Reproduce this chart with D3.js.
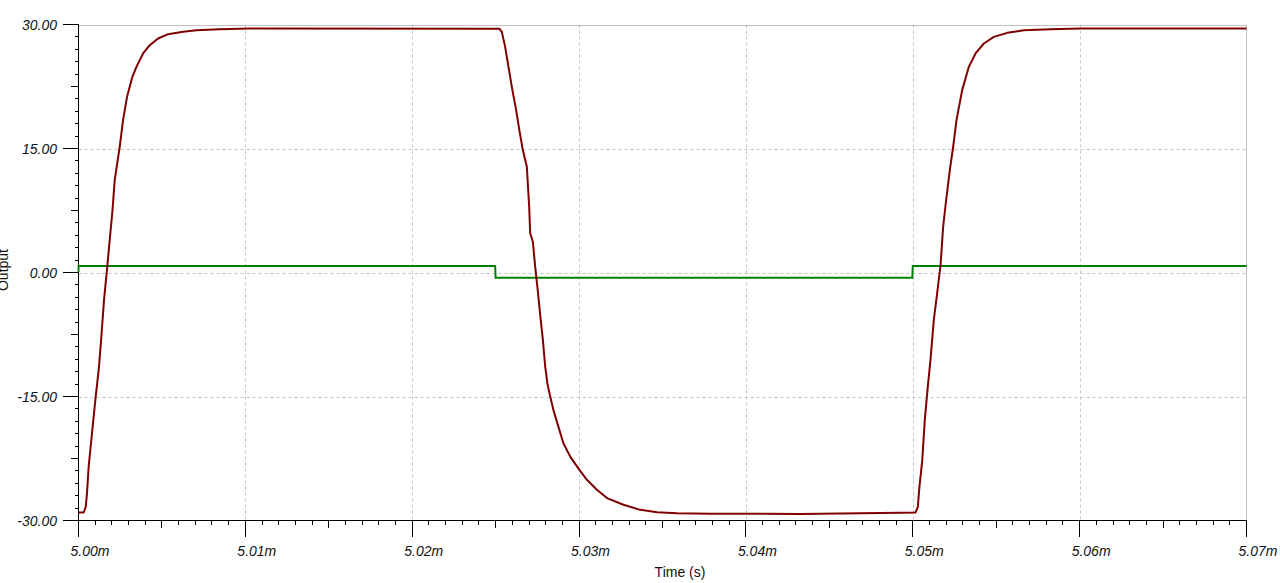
<!DOCTYPE html>
<html>
<head>
<meta charset="utf-8">
<script src="https://cdn.jsdelivr.net/npm/d3@7"></script>
<style>
  html, body { margin: 0; padding: 0; background: #fff; overflow: hidden; }
  svg { display: block; }
  text { font-family: "Liberation Sans", Arial, sans-serif; }
</style>
</head>
<body>
<svg id="chart" width="1280" height="583"></svg>
<script>
// ---- data (time in ms, output in V) ----
const redTime = [5.00000,5.00031,5.00043,5.00051,5.00061,5.00081,5.00101,5.00123,5.00137,5.00153,5.00173,5.00187,5.00203,5.00217,5.00247,5.00267,5.00291,5.00323,5.00347,5.00387,5.00427,5.00477,5.00537,5.00627,5.00707,5.00847,5.01027,5.02522,5.02537,5.02557,5.02577,5.02597,5.02606,5.02623,5.02642,5.02663,5.02687,5.02701,5.02707,5.02723,5.02737,5.02750,5.02766,5.02783,5.02797,5.02810,5.02827,5.02846,5.02876,5.02906,5.02947,5.03002,5.03047,5.03107,5.03167,5.03266,5.03367,5.03467,5.03587,5.03786,5.04327,5.04926,5.05016,5.05030,5.05040,5.05057,5.05072,5.05090,5.05106,5.05126,5.05146,5.05166,5.05182,5.05200,5.05222,5.05242,5.05262,5.05296,5.05336,5.05376,5.05426,5.05486,5.05566,5.05666,5.05826,5.06006,5.07000];
const redValue = [-29.03,-29.03,-28.38,-26.69,-23.47,-19.44,-15.41,-11.39,-7.76,-3.32,0.79,3.93,7.35,11.18,15.21,18.43,21.25,23.67,24.88,26.50,27.50,28.31,28.83,29.11,29.31,29.43,29.52,29.50,29.11,27.29,24.88,22.46,21.46,19.64,17.23,14.81,12.79,7.95,4.74,3.72,0.70,-1.72,-4.93,-8.16,-11.39,-13.39,-15.01,-16.62,-18.64,-20.65,-22.27,-23.88,-25.08,-26.29,-27.29,-28.10,-28.71,-28.99,-29.11,-29.19,-29.20,-29.05,-29.03,-28.38,-25.89,-22.66,-17.83,-13.80,-10.58,-5.74,-2.51,0.79,5.54,8.77,12.39,15.21,18.43,22.06,24.88,26.50,27.70,28.50,28.99,29.31,29.43,29.52,29.52];

const greenTime = [5.00000,5.000005,5.02497,5.02500,5.04997,5.05000,5.07000];
const greenValue = [0.05,0.80,0.80,-0.65,-0.65,0.80,0.80];

const xTickValues = [5.00,5.01,5.02,5.03,5.04,5.05,5.06,5.07];
const xTickLabels = ["5.00m","5.01m","5.02m","5.03m","5.04m","5.05m","5.06m","5.07m"];
const yTickValues = [30,15,0,-15,-30];
const yTickLabels = ["30.00","15.00","0.00","-15.00","-30.00"];

const xTitle = "Time (s)";
const yTitle = "Output";

// ---- layout ----
const svg = d3.select("#chart");
const x = d3.scaleLinear().domain([5.00, 5.07]).range([78.5, 1246.5]);
const y = d3.scaleLinear().domain([-30, 30]).range([520.5, 24.5]);

// grid
const grid = svg.append("g");
grid.selectAll("line.vg").data(xTickValues.slice(1, -1)).enter().append("line")
  .attr("x1", d => Math.round(x(d)) + 0.5).attr("x2", d => Math.round(x(d)) + 0.5)
  .attr("y1", y(30)).attr("y2", y(-30))
  .attr("stroke", "#c4c4c4").attr("stroke-width", 1).attr("stroke-dasharray", "3,3");
grid.selectAll("line.hg").data(yTickValues.slice(1, -1)).enter().append("line")
  .attr("y1", d => Math.round(y(d)) + 0.5).attr("y2", d => Math.round(y(d)) + 0.5)
  .attr("x1", x(5.00)).attr("x2", x(5.07))
  .attr("stroke", "#c4c4c4").attr("stroke-width", 1).attr("stroke-dasharray", "3,3");
// frame top / right
grid.append("line").attr("x1", x(5.00)).attr("x2", x(5.07)).attr("y1", Math.round(y(30)) + 0.5).attr("y2", Math.round(y(30)) + 0.5)
  .attr("stroke", "#c0c0c0");
grid.append("line").attr("x1", Math.round(x(5.07)) - 0.5).attr("x2", Math.round(x(5.07)) - 0.5).attr("y1", y(30)).attr("y2", y(-30))
  .attr("stroke", "#c0c0c0");

// axes
const ax = svg.append("g").attr("stroke", "#000").attr("stroke-width", 1).attr("shape-rendering", "crispEdges");
ax.append("line").attr("x1", x(5.00)).attr("x2", x(5.07)).attr("y1", y(-30)).attr("y2", y(-30));
ax.append("line").attr("x1", x(5.00)).attr("x2", x(5.00)).attr("y1", y(30)).attr("y2", y(-30));

// x ticks: 10 minor per major, mid one longer
const xMinor = d3.range(0, 71).map(i => 5.00 + i * 0.001);
ax.selectAll("line.xt").data(xMinor).enter().append("line")
  .attr("x1", d => x(d)).attr("x2", d => x(d))
  .attr("y1", y(-30))
  .attr("y2", (d, i) => y(-30) + (i % 10 === 0 ? 16 : (i % 5 === 0 ? 7 : 4)));
// y ticks
const yMinor = d3.range(0, 41).map(i => -30 + i * 1.5);
ax.selectAll("line.yt").data(yMinor).enter().append("line")
  .attr("y1", d => y(d)).attr("y2", d => y(d))
  .attr("x1", x(5.00))
  .attr("x2", (d, i) => x(5.00) - (i % 10 === 0 ? 16 : (i % 5 === 0 ? 8 : 4)));

// tick labels
svg.append("g").selectAll("text").data(xTickValues).enter().append("text")
  .attr("x", d => x(d) - 8).attr("y", 556)
  .attr("font-size", 14).attr("font-style", "italic").attr("fill", "#111")
  .text((d, i) => xTickLabels[i]);
svg.append("g").selectAll("text").data(yTickValues).enter().append("text")
  .attr("x", 57).attr("y", d => y(d) + 5)
  .attr("text-anchor", "end")
  .attr("font-size", 14).attr("font-style", "italic").attr("fill", "#111")
  .text((d, i) => yTickLabels[i]);

// titles
svg.append("text").attr("x", 680).attr("y", 577).attr("text-anchor", "middle")
  .attr("font-size", 14).attr("fill", "#111").text(xTitle);
svg.append("text").attr("transform", "translate(8,270) rotate(-90)").attr("text-anchor", "middle")
  .attr("font-size", 14).attr("fill", "#111").text(yTitle);

// series
const line = d3.line().x(d => x(d[0])).y(d => y(d[1]));
svg.append("path").datum(greenTime.map((t, i) => [t, greenValue[i]]))
  .attr("d", line).attr("fill", "none").attr("stroke", "#008000").attr("stroke-width", 2);
svg.append("path").datum(redTime.map((t, i) => [t, redValue[i]]))
  .attr("d", line).attr("fill", "none").attr("stroke", "#800000").attr("stroke-width", 2)
  .attr("stroke-linejoin", "round");
</script>
</body>
</html>
